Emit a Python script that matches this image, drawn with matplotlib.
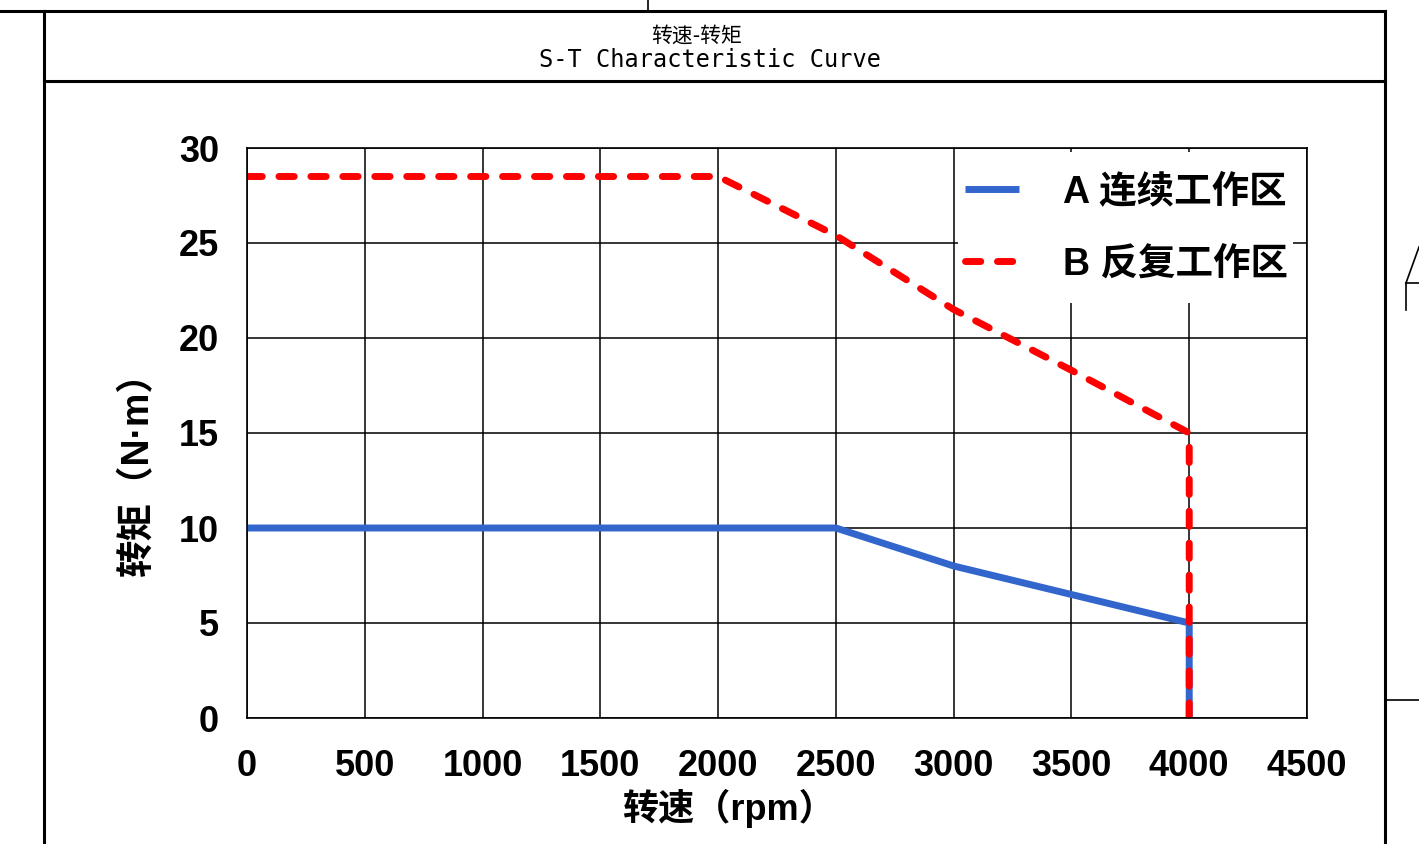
import matplotlib
matplotlib.use('Agg')
import matplotlib.pyplot as plt
from matplotlib.lines import Line2D
from matplotlib.patches import Rectangle

plt.rcParams['font.family'] = ['Liberation Sans', 'Noto Sans CJK SC', 'DejaVu Sans']

# speed (rpm) / torque (N·m)
speed_a = [0, 2500, 3000, 3500, 4000, 4000]
torque_a = [10, 10, 8, 6.5, 5, 0]
speed_b = [0, 2000, 2500, 3000, 3500, 4000, 4000]
torque_b = [28.5, 28.5, 25.4, 21.5, 18.3, 15, 0]
label_a = 'A 连续工作区'
label_b = 'B 反复工作区'
x_ticks = [0, 500, 1000, 1500, 2000, 2500, 3000, 3500, 4000, 4500]
y_ticks = [0, 5, 10, 15, 20, 25, 30]

W, H = 1419, 844
fig = plt.figure(figsize=(W / 100, H / 100), dpi=100)


def fx(px):
    return px / W


def fy(py):
    return 1 - py / H


def frame_line(x0, y0, x1, y1, lw=2.2):
    fig.add_artist(Line2D([fx(x0), fx(x1)], [fy(y0), fy(y1)],
                          transform=fig.transFigure, color='black', lw=lw))


# drawing frame around the chart
frame_line(0, 11, 1385, 11)
frame_line(648, 0, 648, 11, lw=1.2)
frame_line(44, 11, 44, 844)
frame_line(1385, 11, 1385, 844)
frame_line(44, 81, 1385, 81)
frame_line(1385, 700, 1419, 700, lw=1.2)
frame_line(1419, 247, 1406, 283, lw=1.2)
frame_line(1406, 283, 1419, 283, lw=1.2)
frame_line(1406, 283, 1406, 310, lw=1.2)

fig.text(fx(697), fy(36), '转速-转矩', ha='center', va='center',
         fontsize=15, family=['Noto Sans CJK SC'])
fig.text(fx(710), fy(60), 'S-T Characteristic Curve', ha='center', va='center',
         fontsize=17, family=['DejaVu Sans Mono'])

ax_l, ax_r, ax_t, ax_b = 247, 1307, 148, 718
ax = fig.add_axes([fx(ax_l), fy(ax_b), fx(ax_r) - fx(ax_l), fy(ax_t) - fy(ax_b)])

ax.plot(speed_a, torque_a, color='#3366cc', lw=5, label=label_a,
        solid_capstyle='butt', zorder=2)
ax.plot(speed_b, torque_b, color='#ff0000', lw=5, label=label_b,
        linestyle=(0, (2.2, 2.4)), dash_capstyle='round', zorder=2.1)

ax.set_xlim(0, 4500)
ax.set_ylim(0, 30)
ax.set_xticks(x_ticks)
ax.set_yticks(y_ticks)
ax.tick_params(length=0, labelsize=26, pad=20)
ax.tick_params(axis='x', pad=22)
for lab in ax.get_xticklabels() + ax.get_yticklabels():
    lab.set_fontweight('bold')
ax.grid(True, color='black', lw=1.1)
for s in ax.spines.values():
    s.set_color('black')
    s.set_linewidth(1.2)
    s.set_zorder(10)

ax.set_xlabel('转速（rpm）', fontsize=26, fontweight='bold')
ax.xaxis.set_label_coords((728 - ax_l) / 1060, -(808 - ax_b) / 570)
ax.set_ylabel('转矩（N·m）', fontsize=27, fontweight='bold')
ax.yaxis.set_label_coords(-(ax_l - 138) / 1060, (ax_b - 465) / 570)
ax.xaxis.label.set_va('center')
ax.yaxis.label.set_va('center')

# white block behind the legend (hides grid lines like the original)
ax.add_patch(Rectangle((fx(958), fy(303)), fx(1293) - fx(958), fy(152) - fy(303),
                       transform=fig.transFigure, facecolor='white',
                       edgecolor='none', zorder=4))

leg = ax.legend(loc='upper right',
                bbox_to_anchor=((1310 - ax_l) / 1060, (ax_b - 152) / 570),
                frameon=False, handlelength=1.45,
                handletextpad=1.15, labelspacing=0.95, borderpad=0.6,
                borderaxespad=0.0,
                prop={'family': ['Liberation Sans', 'Noto Sans CJK SC'],
                      'size': 27, 'weight': 'bold'})
leg.set_zorder(5)

fig.savefig('out.png', dpi=100)
